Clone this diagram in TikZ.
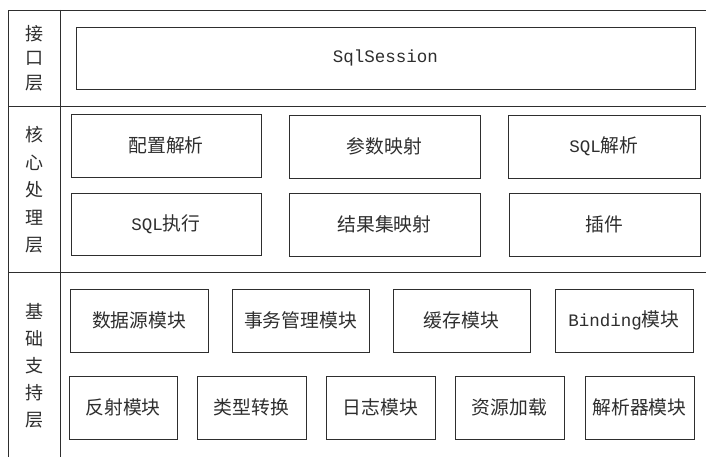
\documentclass[tikz,border=0pt]{standalone}
\usepackage{fontspec}
\newfontfamily\cjk{Noto Sans CJK SC}
\setmonofont{Liberation Mono}
\newcommand{\mono}[1]{{\ttfamily\fontsize{17.5}{20}\selectfont #1}}
\definecolor{ink}{HTML}{2E2E2E}
\begin{document}
\begin{tikzpicture}[x=1pt,y=-1pt,
  frame/.style={draw=ink,line width=0.9pt},
  box/.style={draw=ink,line width=0.9pt,inner sep=0pt,text=ink,font=\cjk\fontsize{18.8}{20}\selectfont},
  lbl/.style={text=ink,align=center,inner sep=0pt}]
\useasboundingbox[fill=white] (0,0) rectangle (706,457);
% frame
\draw[frame] (706,10) -- (8,10) -- (8,457);
\draw[frame] (60,10) -- (60,457);
\draw[frame] (8,106) -- (706,106);
\draw[frame] (8,272) -- (706,272);
% layer labels
\node[lbl,font=\cjk\fontsize{18}{24.5}\selectfont] (l1) at (34,58) {接\\口\\层};
\node[lbl,font=\cjk\fontsize{18}{27.5}\selectfont] (l2) at (34,190) {核\\心\\处\\理\\层};
\node[lbl,font=\cjk\fontsize{18}{27}\selectfont] (l3) at (34,366) {基\\础\\支\\持\\层};
% interface
\node[box,minimum width=619pt,minimum height=62pt] (sql) at (385.5,58) {\mono{SqlSession}};
% core
\node[box,minimum width=190pt,minimum height=63pt] (c1) at (166,145.5) {配置解析};
\node[box,minimum width=191pt,minimum height=63pt] (c2) at (384.5,146.5) {参数映射};
\node[box,minimum width=192pt,minimum height=63pt] (c3) at (604,146.5) {\mono{SQL}解析};
\node[box,minimum width=190pt,minimum height=62pt] (c4) at (166,224) {\mono{SQL}执行};
\node[box,minimum width=191pt,minimum height=63pt] (c5) at (384.5,224.5) {结果集映射};
\node[box,minimum width=191pt,minimum height=63pt] (c6) at (604.5,224.5) {插件};
% base row 1
\node[box,minimum width=138pt,minimum height=63pt] (b1) at (139,320.5) {数据源模块};
\node[box,minimum width=137pt,minimum height=63pt] (b2) at (300.5,320.5) {事务管理模块};
\node[box,minimum width=137pt,minimum height=63pt] (b3) at (461.5,320.5) {缓存模块};
\node[box,minimum width=138pt,minimum height=63pt] (b4) at (624,320.5) {\mono{Binding}模块};
% base row 2
\node[box,minimum width=108pt,minimum height=63pt] (r1) at (123,407.5) {反射模块};
\node[box,minimum width=109pt,minimum height=63pt] (r2) at (251.5,407.5) {类型转换};
\node[box,minimum width=109pt,minimum height=63pt] (r3) at (380.5,407.5) {日志模块};
\node[box,minimum width=109pt,minimum height=63pt] (r4) at (509.5,407.5) {资源加载};
\node[box,minimum width=109pt,minimum height=63pt] (r5) at (639.5,407.5) {解析器模块};
\end{tikzpicture}
\end{document}
